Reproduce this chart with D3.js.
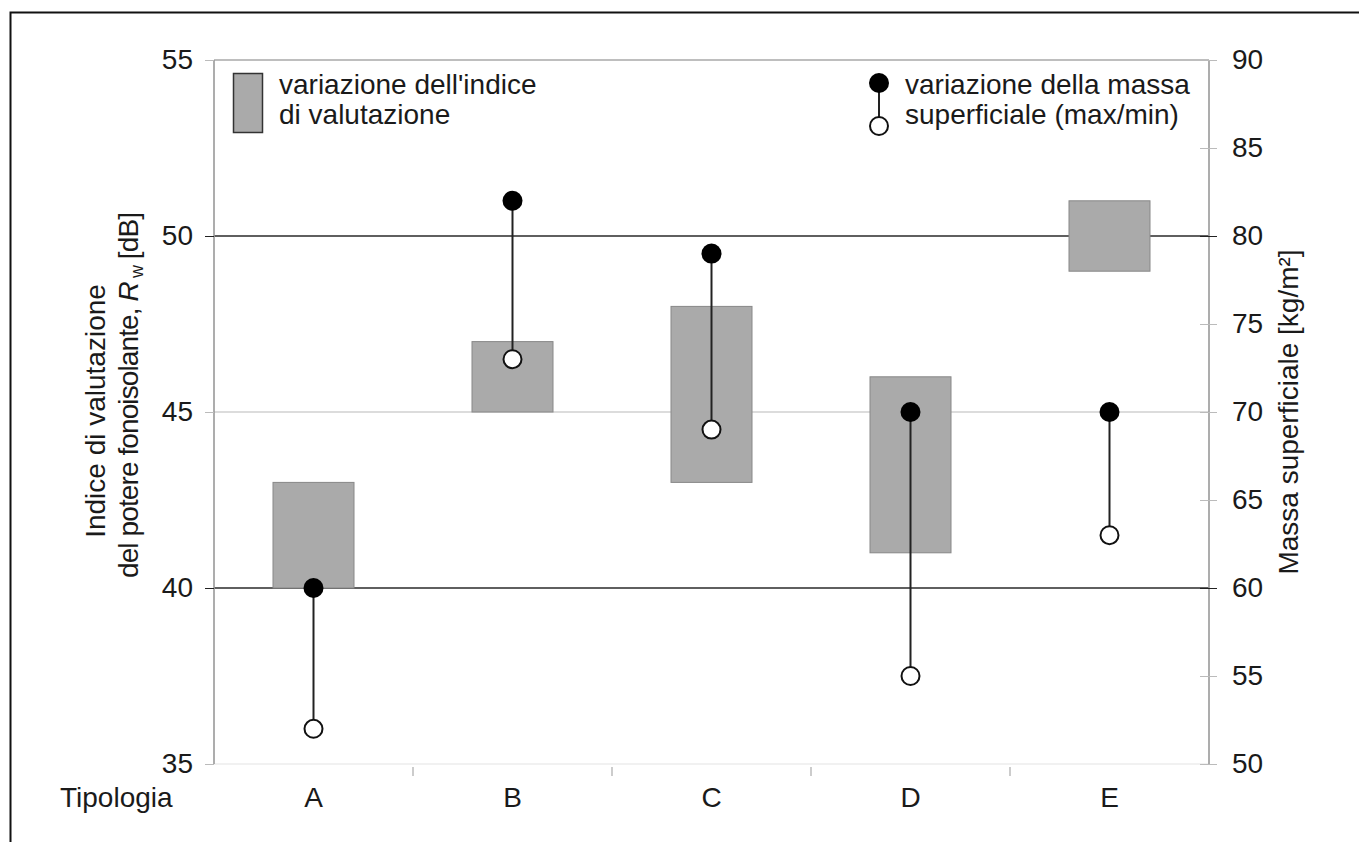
<!DOCTYPE html>
<html><head><meta charset="utf-8">
<script src="https://cdn.jsdelivr.net/npm/d3@7"></script>
<style>body{margin:0;background:#fff}svg{display:block}text{font-family:"Liberation Sans",Arial,sans-serif;fill:#1a1a1a}</style>
</head><body>
<script>
const categories = ["A","B","C","D","E"];
const rwMin = [40,45,43,41,49];
const rwMax = [43,47,48,46,51];
const massMax = [60,82,79,70,70];
const massMin = [52,73,69,55,63];
const leftTicks = [35,40,45,50,55];
const rightTicks = [50,55,60,65,70,75,80,85,90];

const W=1359,H=842,FS=28;
const svg=d3.select("body").append("svg").attr("width",W).attr("height",H);
svg.append("rect").attr("x",10.5).attr("y",12.5).attr("width",1400).attr("height",900).attr("fill","none").attr("stroke","#111").attr("stroke-width",2);

const L=214,R=1209,T=60,B=764;
const x=d3.scaleBand().domain(categories).range([L,R]).paddingInner(0).paddingOuter(0);
const yL=d3.scaleLinear().domain([35,55]).range([B,T]);
const yR=d3.scaleLinear().domain([50,90]).range([B,T]);
const gridColor={35:"#ececec",40:"#2a2a2a",45:"#d0d0d0",50:"#2a2a2a",55:"#a8a8a8"};

// gridlines
const grid=svg.append("g");
leftTicks.forEach(t=>{
  const dark=(t===40||t===50);
  grid.append("line").attr("x1",L).attr("x2",R).attr("y1",yL(t)).attr("y2",yL(t))
    .attr("stroke",gridColor[t]).attr("stroke-width",dark?1.4:1.3);
});

// left axis
const axL=svg.append("g").attr("transform",`translate(${L},0)`).call(d3.axisLeft(yL).tickValues(leftTicks).tickSize(9).tickPadding(12));
axL.select(".domain").attr("stroke","#999").attr("stroke-width",1.6).attr("d",`M0,${T}V${B}`);
axL.selectAll(".tick line").attr("stroke",d=>(d===40||d===50)?"#222":"#bbb");
axL.selectAll(".tick text").attr("font-size",FS).attr("fill","#1a1a1a").attr("font-family","Liberation Sans, Arial, sans-serif");

// right axis
const axR=svg.append("g").attr("transform",`translate(${R},0)`).call(d3.axisRight(yR).tickValues(rightTicks).tickSize(8).tickPadding(15));
axR.select(".domain").attr("stroke","#999").attr("stroke-width",1.6).attr("d",`M0,${T}V${B}`);
axR.selectAll(".tick line").attr("stroke",d=>(d===60||d===80)?"#222":"#bbb").attr("x1",-9).attr("x2",8);
axR.selectAll(".tick text").attr("font-size",FS).attr("fill","#1a1a1a").attr("font-family","Liberation Sans, Arial, sans-serif");

// bottom category ticks and labels
const axB=svg.append("g").attr("transform",`translate(0,${B})`);
categories.slice(1).forEach(c=>{
  axB.append("line").attr("x1",x(c)).attr("x2",x(c)).attr("y1",3).attr("y2",12).attr("stroke","#aaa").attr("stroke-width",1.2);
});
categories.forEach(c=>{
  axB.append("text").attr("x",x(c)+x.bandwidth()/2).attr("y",43).attr("text-anchor","middle").attr("font-size",FS).text(c);
});
axB.append("text").attr("x",60).attr("y",43).attr("font-size",FS).text("Tipologia");

// boxes
const bw=81;
svg.append("g").selectAll("rect").data(categories).join("rect")
  .attr("x",d=>x(d)+x.bandwidth()/2-bw/2).attr("width",bw)
  .attr("y",(d,i)=>yL(rwMax[i])).attr("height",(d,i)=>yL(rwMin[i])-yL(rwMax[i]))
  .attr("fill","#aaaaaa").attr("stroke","#888").attr("stroke-width",1);

// lollipops
const g=svg.append("g");
categories.forEach((c,i)=>{
  const cx=x(c)+x.bandwidth()/2;
  g.append("line").attr("x1",cx).attr("x2",cx).attr("y1",yR(massMax[i])).attr("y2",yR(massMin[i])).attr("stroke","#222").attr("stroke-width",2);
  g.append("circle").attr("cx",cx).attr("cy",yR(massMax[i])).attr("r",10).attr("fill","#000");
  g.append("circle").attr("cx",cx).attr("cy",yR(massMin[i])).attr("r",9).attr("fill","#fff").attr("stroke","#111").attr("stroke-width",2);
});

// legend left
svg.append("rect").attr("x",233.5).attr("y",73.5).attr("width",29).attr("height",59).attr("fill","#aaaaaa").attr("stroke","#333").attr("stroke-width",1.5);
svg.append("text").attr("x",279).attr("y",94).attr("font-size",FS).text("variazione dell'indice");
svg.append("text").attr("x",279).attr("y",124).attr("font-size",FS).text("di valutazione");

// legend right
svg.append("line").attr("x1",879).attr("x2",879).attr("y1",84).attr("y2",126).attr("stroke","#222").attr("stroke-width",2);
svg.append("circle").attr("cx",879).attr("cy",83).attr("r",10).attr("fill","#000");
svg.append("circle").attr("cx",879).attr("cy",126).attr("r",9).attr("fill","#fff").attr("stroke","#111").attr("stroke-width",2);
svg.append("text").attr("x",905).attr("y",94).attr("font-size",FS).text("variazione della massa");
svg.append("text").attr("x",905).attr("y",124).attr("font-size",FS).text("superficiale (max/min)");

// left axis title
const ltg=svg.append("g").attr("transform",`translate(105,411) rotate(-90)`);
ltg.append("text").attr("x",0).attr("y",0).attr("text-anchor","middle").attr("font-size",FS).text("Indice di valutazione");
const t2=ltg.append("text").attr("x",16).attr("y",33).attr("text-anchor","middle").attr("font-size",FS)
  .attr("textLength",366).attr("lengthAdjust","spacing");
t2.append("tspan").text("del potere fonoisolante, ");
t2.append("tspan").attr("font-style","italic").text("R");
t2.append("tspan").attr("font-size",18).attr("dy",5).text(" w");
t2.append("tspan").attr("dy",-5).text(" [dB]");

// right axis title
const rtg=svg.append("g").attr("transform",`translate(1298,412) rotate(-90)`);
rtg.append("text").attr("text-anchor","middle").attr("font-size",FS).text("Massa superficiale [kg/m²]");
</script>
</body></html>
